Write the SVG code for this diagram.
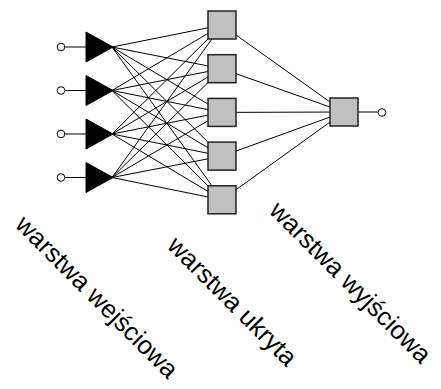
<svg xmlns="http://www.w3.org/2000/svg" width="441" height="389" viewBox="0 0 441 389">
  <style>
    .link { stroke: #000; stroke-width: 1; fill: none; }
    .port { fill: #fff; stroke: #000; stroke-width: 1; }
    .neuron-in { fill: #000; stroke: #000; stroke-width: 1; }
    .neuron { fill: #c0c0c0; stroke: #222; stroke-width: 1.5; }
    .label { font-family: "Liberation Sans", Arial, sans-serif; font-size: 25.6px; fill: #000; }
  </style>
  <rect width="441" height="389" fill="#fff"/>

  <!-- connectors -->
  <g id="connectors">
    <!-- input ports to input neurons -->
    <line class="link" x1="65" y1="47" x2="86" y2="47"/>
    <line class="link" x1="65" y1="90.5" x2="86" y2="90.5"/>
    <line class="link" x1="65" y1="134" x2="86" y2="134"/>
    <line class="link" x1="65" y1="177.5" x2="86" y2="177.5"/>
    <!-- input layer to hidden layer -->
    <line class="link" x1="112" y1="47" x2="222" y2="25"/>
    <line class="link" x1="112" y1="47" x2="222" y2="68.7"/>
    <line class="link" x1="112" y1="47" x2="222" y2="112.4"/>
    <line class="link" x1="112" y1="47" x2="222" y2="156.1"/>
    <line class="link" x1="112" y1="47" x2="222" y2="199.8"/>
    <line class="link" x1="112" y1="90.5" x2="222" y2="25"/>
    <line class="link" x1="112" y1="90.5" x2="222" y2="68.7"/>
    <line class="link" x1="112" y1="90.5" x2="222" y2="112.4"/>
    <line class="link" x1="112" y1="90.5" x2="222" y2="156.1"/>
    <line class="link" x1="112" y1="90.5" x2="222" y2="199.8"/>
    <line class="link" x1="112" y1="134" x2="222" y2="25"/>
    <line class="link" x1="112" y1="134" x2="222" y2="68.7"/>
    <line class="link" x1="112" y1="134" x2="222" y2="112.4"/>
    <line class="link" x1="112" y1="134" x2="222" y2="156.1"/>
    <line class="link" x1="112" y1="134" x2="222" y2="199.8"/>
    <line class="link" x1="112" y1="177.5" x2="222" y2="25"/>
    <line class="link" x1="112" y1="177.5" x2="222" y2="68.7"/>
    <line class="link" x1="112" y1="177.5" x2="222" y2="112.4"/>
    <line class="link" x1="112" y1="177.5" x2="222" y2="156.1"/>
    <line class="link" x1="112" y1="177.5" x2="222" y2="199.8"/>
    <!-- hidden layer to output neuron -->
    <line class="link" x1="222" y1="25" x2="344" y2="112"/>
    <line class="link" x1="222" y1="68.7" x2="344" y2="112"/>
    <line class="link" x1="222" y1="112.4" x2="344" y2="112"/>
    <line class="link" x1="222" y1="156.1" x2="344" y2="112"/>
    <line class="link" x1="222" y1="199.8" x2="344" y2="112"/>
    <!-- output neuron to output port -->
    <line class="link" x1="358" y1="112" x2="378" y2="112"/>
  </g>

  <!-- input layer -->
  <g id="in1">
    <circle class="port" cx="61" cy="47" r="3.8"/>
    <polygon class="neuron-in" points="86,32 86,62 113,47"/>
  </g>
  <g id="in2">
    <circle class="port" cx="61" cy="90.5" r="3.8"/>
    <polygon class="neuron-in" points="86,75.5 86,105.5 113,90.5"/>
  </g>
  <g id="in3">
    <circle class="port" cx="61" cy="134" r="3.8"/>
    <polygon class="neuron-in" points="86,119 86,149 113,134"/>
  </g>
  <g id="in4">
    <circle class="port" cx="61" cy="177.5" r="3.8"/>
    <polygon class="neuron-in" points="86,162.5 86,192.5 113,177.5"/>
  </g>

  <!-- hidden layer -->
  <g id="h1"><rect class="neuron" x="208" y="11" width="28" height="28"/></g>
  <g id="h2"><rect class="neuron" x="208" y="54.7" width="28" height="28"/></g>
  <g id="h3"><rect class="neuron" x="208" y="98.4" width="28" height="28"/></g>
  <g id="h4"><rect class="neuron" x="208" y="142.1" width="28" height="28"/></g>
  <g id="h5"><rect class="neuron" x="208" y="185.8" width="28" height="28"/></g>

  <!-- output layer -->
  <g id="out">
    <rect class="neuron" x="330" y="98" width="28" height="28"/>
    <circle class="port" cx="382" cy="112.5" r="3.8"/>
  </g>

  <!-- layer captions -->
  <g id="labels">
    <text class="label" x="14" y="226" transform="rotate(45 14 226)">warstwa wejściowa</text>
    <text class="label" x="166" y="247" transform="rotate(45 166 247)">warstwa ukryta</text>
    <text class="label" x="268" y="212" transform="rotate(45 268 212)">warstwa wyjściowa</text>
  </g>
</svg>
